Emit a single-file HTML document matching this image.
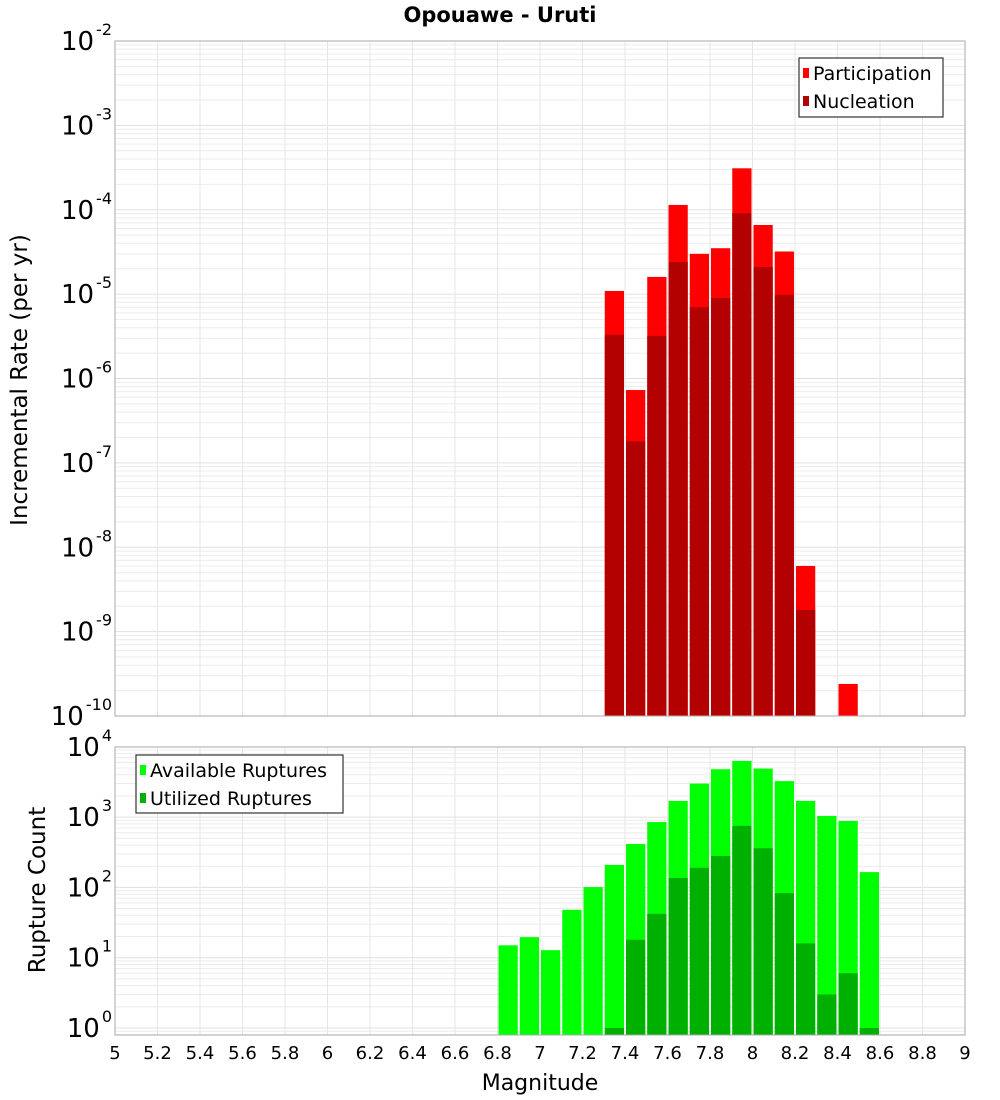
<!DOCTYPE html>
<html><head><meta charset="utf-8"><style>
body{margin:0;background:#fff;}
svg{display:block;font-family:"DejaVu Sans","Liberation Sans",sans-serif;}
</style></head><body>
<svg id="chart" width="1000" height="1100" xmlns="http://www.w3.org/2000/svg">
<text x="500" y="22" text-anchor="middle" font-weight="bold" font-size="21">Opouawe - Uruti</text>
<g id="g"></g>
</svg>
<script>
const bins = [6.85,6.95,7.05,7.15,7.25,7.35,7.45,7.55,7.65,7.75,7.85,7.95,8.05,8.15,8.25,8.35,8.45,8.55];
const participation = [0,0,0,0,0,1.09e-5,7.3e-7,1.6e-5,1.14e-4,3.0e-5,3.5e-5,3.1e-4,6.6e-5,3.2e-5,6e-9,0,2.4e-10,0];
const nucleation = [0,0,0,0,0,3.3e-6,1.8e-7,3.2e-6,2.4e-5,7e-6,9e-6,9.1e-5,2.1e-5,9.8e-6,1.8e-9,0,0,0];
const available = [15,19.6,12.8,48,101,209,414,850,1700,3000,4800,6300,4900,3250,1700,1040,880,165];
const utilized = [0,0,0,0,0,1,18,42,136,190,280,750,360,83,16,3,6,1];
const xTicks = [5,5.2,5.4,5.6,5.8,6,6.2,6.4,6.6,6.8,7,7.2,7.4,7.6,7.8,8,8.2,8.4,8.6,8.8,9];
const topExps = [-2,-3,-4,-5,-6,-7,-8,-9,-10];
const botExps = [4,3,2,1,0];

const NS='http://www.w3.org/2000/svg';
const g=document.getElementById('g');
function el(tag,attrs,parent){const e=document.createElementNS(NS,tag);for(const k in attrs)e.setAttribute(k,attrs[k]);(parent||g).appendChild(e);return e;}
const X0=115,X1=965;
const xs=v=>X0+(v-5)*(X1-X0)/4;
const yTop=v=>41+(-2-Math.log10(v))*84.375;
const yBot=v=>1028-Math.log10(v)*70.3;
const TT=41,TB=716,BT=747,BB=1035;
const bw=(X1-X0)/40;

function grid(top,bot,ys,minE,maxE){
  for(let e=minE;e<maxE;e++){for(let m=1;m<10;m++){const y=ys(m*Math.pow(10,e));if(y>=top&&y<=bot){const l=el('line',{x1:X0,x2:X1,y1:y,y2:y,stroke:m==1?'#e0e0e0':'#ececec','stroke-width':1});}}}
  xTicks.forEach(t=>{const l=el('line',{x1:xs(t),x2:xs(t),y1:top,y2:bot,stroke:'#e6e6e6','stroke-width':1});});
}
grid(TT,TB,yTop,-11,-1);
grid(BT,BB,yBot,-1,5);

bins.forEach((b,i)=>{
  const x=xs(b)-bw/2+1, w=bw-2;
  if(participation[i]>0){const y=yTop(participation[i]);const r=el('rect',{x:x,y:y,width:w,height:TB-y,fill:'#ff0000'});}
  if(nucleation[i]>0){const y=yTop(nucleation[i]);const r=el('rect',{x:x,y:y,width:w,height:TB-y,fill:'#b30000'});}
  if(available[i]>0){const y=yBot(available[i]);const r=el('rect',{x:x,y:y,width:w,height:BB-y,fill:'#00ff00'});}
  if(utilized[i]>0){const y=yBot(utilized[i]);const r=el('rect',{x:x,y:y,width:w,height:BB-y,fill:'#00b000'});}
});

const f1=el('rect',{x:X0,y:TT,width:X1-X0,height:TB-TT,fill:'none',stroke:'#aaa'});

const f2=el('rect',{x:X0,y:BT,width:X1-X0,height:BB-BT,fill:'none',stroke:'#aaa'});


function ylab(y,exp){
  const t=el('text',{x:112,y:y+9,'text-anchor':'end','font-size':26});
  
  const a=el('tspan',{},t);a.textContent='10';
  const s=el('tspan',{dy:-15,dx:2,'font-size':16},t);s.textContent=String(exp);
}
topExps.forEach(e=>ylab(yTop(Math.pow(10,e)),e));
botExps.forEach(e=>ylab(yBot(Math.pow(10,e)),e));
xTicks.forEach(t=>{const tx=el('text',{x:xs(t),y:1059,'text-anchor':'middle','font-size':18});tx.textContent=String(t);});

const xt=el('text',{x:540,y:1090,'text-anchor':'middle','font-size':22});xt.textContent='Magnitude';

const yt1=el('text',{x:0,y:0,'text-anchor':'middle','font-size':23,transform:'translate(27,380) rotate(-90)'});yt1.textContent='Incremental Rate (per yr)';

const yt2=el('text',{x:0,y:0,'text-anchor':'middle','font-size':23,transform:'translate(45,890) rotate(-90)'});yt2.textContent='Rupture Count';


function legend(x,y,w,h,items,name){
  const lg=el('g',{});
  el('rect',{x:x,y:y,width:w,height:h,fill:'#fff',stroke:'#333','stroke-width':1.2},lg);
  items.forEach((it,i)=>{
    const sw=el('rect',{x:x+4,y:y+10+i*28,width:6,height:10,fill:it[1]},lg);
    
    const t=el('text',{x:x+14,y:y+22+i*28,'font-size':19},lg);t.textContent=it[0];
    
  });
}
legend(799,58,144,59,[['Participation','#ff0000'],['Nucleation','#b30000']],'top-legend');
legend(136,755,207,58,[['Available Ruptures','#00ff00'],['Utilized Ruptures','#00b000']],'bottom-legend');
</script>
</body></html>
